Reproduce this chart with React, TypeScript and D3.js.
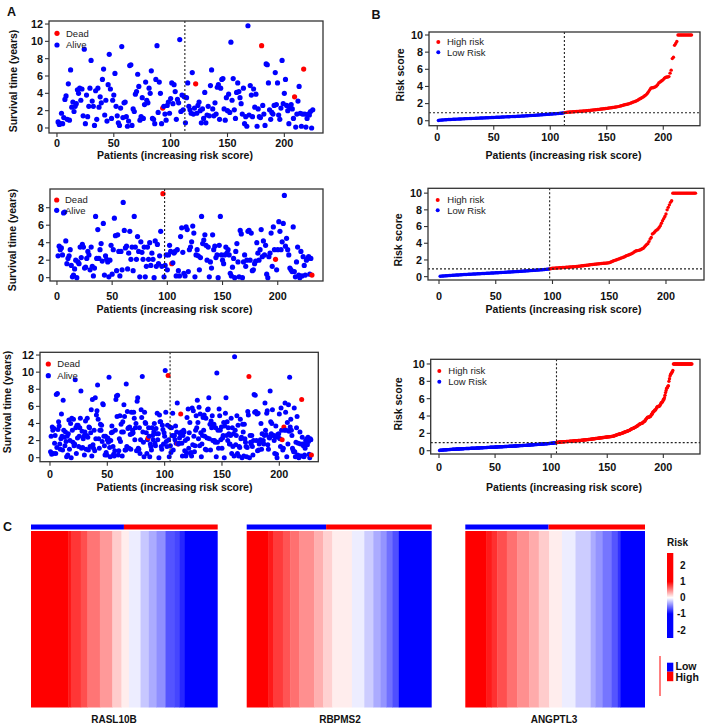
import React from "react";
import * as d3 from "d3";

const RED = "#FF0000";
const BLUE = "#0000FF";
const INK = "#111111";
const FONT = "'Liberation Sans', Arial, Helvetica, sans-serif";

// Training cohort: survival time (years) of patients ranked by increasing risk score
const trainSurvival = [
  0.7, 0.4, 0.5, 1.7, 0.5, 1.2, 3.3, 3.7, 1.0, 5.1,
  0.9, 6.7, 2.4, 3.0, 1.9, 2.5, 2.8, 4.4, 4.0, 4.6,
  3.2, 4.5, 1.4, 9.1, 0.5, 3.8, 1.3, 2.5, 4.6, 7.8,
  3.1, 2.5, 0.3, 4.3, 1.0, 4.6, 2.4, 3.6, 2.9, 5.6,
  6.8, 1.5, 3.2, 0.8, 5.0, 8.5, 4.5, 1.1, 3.2, 3.8,
  6.3, 2.5, 1.4, 0.6, 0.3, 2.3, 9.4, 1.2, 2.9, 3.0,
  1.3, 0.2, 0.8, 7.2, 7.3, 0.3, 2.2, 1.9, 3.9, 4.2,
  6.2, 4.8, 0.9, 1.3, 3.5, 1.1, 2.7, 5.3, 3.2, 2.9,
  4.6, 4.0, 6.6, 1.1, 1.0, 0.5, 5.6, 9.5, 1.8, 5.3,
  4.0, 0.5, 2.3, 2.5, 1.6, 0.9, 2.6, 3.0, 1.7, 3.4,
  5.2, 2.8, 5.0, 4.2, 1.0, 3.3, 2.9, 10.2, 1.9, 3.8,
  2.1, 3.6, 0.6, 3.5, 5.2, 2.5, 2.1, 1.7, 6.4, 1.6,
  2.3, 5.1, 1.7, 2.6, 3.0, 2.0, 0.6, 2.2, 1.1, 4.1,
  0.6, 1.5, 2.5, 1.4, 4.9, 6.7, 2.2, 1.4, 2.9, 1.6,
  4.7, 5.0, 1.0, 4.6, 5.6, 5.7, 2.2, 0.9, 3.5, 2.0,
  3.9, 1.8, 9.9, 3.2, 5.7, 2.1, 1.1, 4.1, 5.2, 4.2,
  3.5, 2.8, 1.6, 4.6, 0.5, 1.3, 0.2, 11.8, 1.5, 4.9,
  3.8, 1.3, 4.5, 2.4, 3.9, 0.2, 2.2, 1.3, 1.2, 9.5,
  2.6, 1.6, 0.3, 7.4, 7.3, 5.2, 2.1, 1.0, 1.8, 1.6,
  2.6, 6.4, 2.7, 5.2, 1.5, 1.0, 2.3, 7.8, 2.8, 4.0,
  5.6, 2.6, 2.0, 0.5, 2.4, 2.7, 2.2, 1.1, 3.6, 0.1,
  1.6, 3.1, 4.8, 1.7, 0.2, 1.6, 6.8, 1.6, 0.1, 1.1,
  1.6, 1.5, 1.9, 0.0, 2.1,
];
// Ranks of patients who died
const trainDead = [93, 122, 180, 209, 217];
// Risk score of each ranked patient
const trainRisk = [
  0.03, 0.05, 0.07, 0.08, 0.09, 0.10, 0.11, 0.12, 0.13, 0.14,
  0.15, 0.15, 0.16, 0.17, 0.17, 0.18, 0.19, 0.19, 0.20, 0.21,
  0.21, 0.22, 0.22, 0.23, 0.24, 0.24, 0.25, 0.25, 0.26, 0.26,
  0.27, 0.28, 0.28, 0.29, 0.29, 0.30, 0.30, 0.31, 0.32, 0.32,
  0.33, 0.33, 0.34, 0.34, 0.35, 0.36, 0.36, 0.37, 0.38, 0.38,
  0.39, 0.40, 0.40, 0.41, 0.41, 0.42, 0.43, 0.43, 0.44, 0.45,
  0.45, 0.46, 0.46, 0.47, 0.48, 0.48, 0.49, 0.50, 0.50, 0.51,
  0.52, 0.52, 0.53, 0.54, 0.55, 0.55, 0.56, 0.57, 0.58, 0.58,
  0.59, 0.60, 0.61, 0.62, 0.62, 0.63, 0.64, 0.65, 0.66, 0.67,
  0.68, 0.69, 0.70, 0.71, 0.72, 0.73, 0.74, 0.75, 0.76, 0.77,
  0.78, 0.79, 0.80, 0.81, 0.82, 0.83, 0.84, 0.86, 0.87, 0.88,
  0.90, 0.92,
  0.95, 0.97, 0.99, 1.00, 1.01, 1.02, 1.03, 1.04,
  1.05, 1.06, 1.07, 1.08, 1.09, 1.10, 1.11, 1.12, 1.13, 1.14,
  1.15, 1.17, 1.18, 1.19, 1.21, 1.22, 1.24, 1.25, 1.27, 1.28,
  1.30, 1.31, 1.33, 1.34, 1.36, 1.37, 1.39, 1.40, 1.42, 1.44,
  1.46, 1.48, 1.50, 1.52, 1.54, 1.56, 1.58, 1.60, 1.62, 1.65,
  1.68, 1.71, 1.75, 1.79, 1.83, 1.87, 1.90, 1.93, 1.96, 2.00,
  2.05, 2.10, 2.15, 2.20, 2.25, 2.30, 2.37, 2.45, 2.53, 2.60,
  2.68, 2.75, 2.85, 2.95, 3.05, 3.20, 3.40, 3.60, 3.78, 3.85,
  3.85, 3.90, 3.95, 4.05, 4.20, 4.40, 4.50, 4.60, 4.70, 4.80,
  4.95, 5.05, 5.10, 5.10, 5.15, 5.55, 5.90, 7.25, 7.40, 8.80,
  9.00, 9.25, 10.0, 10.0, 10.0, 10.0, 10.0, 10.0, 10.0, 10.0,
  10.0, 10.0, 10.0, 10.0, 10.0,
];

// Validation cohort
const testSurvival = [
  2.5, 3.6, 3.2, 3.4, 2.6, 7.4, 7.5, 4.2, 1.6, 2.2,
  2.5, 3.2, 1.4, 0.1, 0.3, 1.0, 2.0, 0.0, 1.8, 1.6,
  3.5, 2.3, 3.8, 3.5, 1.1, 1.2, 2.2, 3.0, 2.6, 0.9,
  3.5, 1.3, 0.2, 1.1, 7.0, 2.2, 5.5, 2.2, 3.2, 3.9,
  1.9, 6.2, 0.3, 2.5, 2.1, 1.8, 0.1, 2.0, 3.7, 0.4,
  3.2, 6.8, 4.8, 0.8, 4.9, 3.0, 0.2, 3.0, 0.9, 8.6,
  5.4, 3.4, 3.6, 1.0, 2.8, 5.3, 2.1, 3.5, 0.8, 7.0,
  3.5, 2.1, 4.7, 3.0, 0.1, 4.1, 2.9, 2.1, 3.5, 0.1,
  1.3, 3.5, 2.1, 4.0, 1.4, 2.8, 2.1, 0.0, 4.2, 1.3,
  3.8, 1.6, 2.5, 5.3, 1.3, 9.6, 0.1, 1.4, 2.6, 0.9,
  2.6, 3.7, 3.0, 1.6, 1.7, 2.8, 3.0, 0.2, 3.2, 0.8,
  0.2, 4.7, 5.7, 2.9, 0.5, 0.2, 5.8, 5.5, 0.7, 3.2,
  3.5, 4.1, 5.9, 5.1, 0.1, 2.6, 3.2, 2.5, 0.9, 2.3,
  7.0, 3.9, 4.3, 4.9, 3.7, 2.0, 3.5, 0.1, 1.8, 1.1,
  4.9, 3.2, 3.6, 2.3, 2.6, 0.0, 3.7, 7.0, 2.6, 2.0,
  1.6, 2.6, 3.5, 2.8, 3.2, 2.6, 0.5, 0.2, 1.2, 2.2,
  0.0, 3.0, 3.9, 1.8, 0.1, 5.4, 5.0, 0.0, 1.8, 2.6,
  1.3, 2.0, 5.3, 5.4, 2.0, 5.1, 0.8, 0.9, 1.6, 1.9,
  4.0, 2.8, 2.0, 3.2, 5.5, 2.4, 4.2, 2.6, 3.7, 0.4,
  0.0, 2.4, 2.8, 5.1, 1.3, 5.8, 3.2, 2.1, 0.9, 3.2,
  6.4, 5.3, 3.2, 4.1, 6.2, 9.4, 3.6, 4.5, 3.2, 2.6,
  1.1, 0.9, 0.7, 5.8, 0.7, 0.1, 1.8, 3.5, 0.3, 0.0,
  3.0, 0.2, 2.4, 1.4, 0.3, 2.0, 2.2, 2.4, 0.4, 2.2,
  0.3,
];
const testDead = [96, 104, 198, 231];
const testRisk = [
  0.05, 0.06, 0.07, 0.08, 0.09, 0.10, 0.11, 0.12, 0.13, 0.14,
  0.15, 0.16, 0.17, 0.18, 0.19, 0.20, 0.20, 0.21, 0.22, 0.23,
  0.24, 0.25, 0.25, 0.26, 0.27, 0.28, 0.28, 0.29, 0.30, 0.31,
  0.32, 0.32, 0.33, 0.34, 0.35, 0.35, 0.36, 0.37, 0.38, 0.38,
  0.39, 0.40, 0.41, 0.41, 0.42, 0.43, 0.44, 0.44, 0.45, 0.46,
  0.47, 0.47, 0.48, 0.49, 0.50, 0.51, 0.51, 0.52, 0.53, 0.54,
  0.55, 0.55, 0.56, 0.57, 0.58, 0.59, 0.60, 0.60, 0.61, 0.62,
  0.63, 0.64, 0.65, 0.66, 0.67, 0.68, 0.69, 0.70, 0.71, 0.72,
  0.73, 0.74, 0.75, 0.76, 0.77, 0.78, 0.79, 0.80, 0.81, 0.82,
  0.83, 0.84, 0.86, 0.87, 0.88, 0.90, 0.92,
  0.95, 0.98, 1.00,
  1.01, 1.02, 1.03, 1.04, 1.05, 1.06, 1.07, 1.08, 1.09, 1.10,
  1.11, 1.12, 1.13, 1.14, 1.15, 1.16, 1.17, 1.18, 1.19, 1.20,
  1.22, 1.23, 1.25, 1.26, 1.28, 1.30, 1.31, 1.33, 1.35, 1.36,
  1.38, 1.40, 1.42, 1.44, 1.45, 1.47, 1.49, 1.50, 1.52, 1.53,
  1.55, 1.56, 1.58, 1.59, 1.60, 1.61, 1.62, 1.63, 1.65, 1.68,
  1.72, 1.78, 1.85, 1.90, 1.95, 2.00, 2.05, 2.10, 2.15, 2.20,
  2.25, 2.30, 2.35, 2.42, 2.50, 2.55, 2.60, 2.65, 2.70, 2.78,
  2.85, 2.95, 3.05, 3.10, 3.12, 3.15, 3.20, 3.25, 3.35, 3.40,
  3.55, 3.70, 3.85, 3.95, 4.20, 4.50, 4.70, 5.10, 5.20, 5.35,
  5.50, 5.60, 5.70, 5.90, 6.10, 6.40, 6.70, 6.95, 7.20, 7.50,
  8.00, 8.30, 8.60, 8.90, 9.10,
  10.0, 10.0, 10.0, 10.0, 10.0, 10.0, 10.0, 10.0, 10.0, 10.0,
  10.0, 10.0, 10.0, 10.0, 10.0, 10.0, 10.0, 10.0, 10.0, 10.0,
  10.0,
];

// Median risk score used to split low / high risk groups
const riskCutoff = 0.93;

const xTicks = [0, 50, 100, 150, 200];
const survivalTicks = [0, 2, 4, 6, 8, 10, 12];
const survivalTicksShort = [0, 2, 4, 6, 8];
const riskTicks = [0, 2, 4, 6, 8, 10];

// Heatmap bands (number of samples, scaled expression) per gene, left to right
const genes = ["RASL10B", "RBPMS2", "ANGPTL3"];
const rasl10bCounts = [45, 3, 12, 8, 15, 15, 11, 9, 14, 10, 9, 11, 11, 6, 6, 40];
const rasl10bValues = [1, 0.92, 0.79, 0.69, 0.54, 0.4, 0.2, 0.07, -0.07, -0.22, -0.33, -0.44, -0.67, -0.73, -0.85, -1];
const rbpms2Counts = [26, 6, 12, 9, 11, 18, 11, 11, 24, 15, 11, 9, 7, 7, 8, 40];
const rbpms2Values = [1, 0.9, 0.77, 0.67, 0.56, 0.44, 0.31, 0.18, 0.07, -0.07, -0.2, -0.33, -0.42, -0.56, -0.69, -1];
const angptl3Counts = [26, 7, 7, 12, 13, 15, 12, 13, 16, 17, 19, 6, 9, 11, 8, 3, 31];
const angptl3Values = [1, 0.9, 0.81, 0.69, 0.56, 0.44, 0.33, 0.2, 0.07, -0.07, -0.2, -0.33, -0.42, -0.54, -0.67, -0.81, -1];
const colorbarTicks = [2, 1, 0, -1, -2];

// ---- derived series ----
type Pt = { x: number; y: number; color: string };

const survivalPoints = (times: number[], dead: number[]): Pt[] =>
  times.map((t, i) => ({ x: i + 1, y: t, color: dead.includes(i + 1) ? RED : BLUE }));

const riskPoints = (risk: number[], step = 1): Pt[] =>
  risk.map((r, i) => ({ x: (i + 1) * step, y: r, color: r > riskCutoff ? RED : BLUE }));

// Entire cohort: both cohorts merged by risk score, two patients per axis unit
type Patient = { time: number; dead: boolean; risk: number; rel: number };
const cohort = (times: number[], dead: number[], risk: number[]): Patient[] =>
  times.map((t, i) => ({
    time: t,
    dead: dead.includes(i + 1),
    risk: risk[Math.min(i, risk.length - 1)],
    rel: i / (times.length - 1),
  }));
const entire = [...cohort(trainSurvival, trainDead, trainRisk), ...cohort(testSurvival, testDead, testRisk)]
  .sort((a, b) => a.risk - b.risk || a.rel - b.rel);
const entirePoints: Pt[] = entire.map((p, i) => ({ x: (i + 1) / 2, y: p.time, color: p.dead ? RED : BLUE }));
const entireRisk = [...trainRisk, ...testRisk].sort((a, b) => a - b);

const lowCount = (risk: number[]) => risk.filter((r) => r < riskCutoff).length;
const trainSplit = lowCount(trainRisk) + 0.5;
const testSplit = lowCount(testRisk) + 0.5;
const entireSplit = (lowCount(entireRisk) + 0.5) / 2;

// ---- layout ----
type Spec = {
  frame: [number, number, number, number];
  xDomain: [number, number];
  yDomain: [number, number];
  yTicks: number[];
  yTitle: string;
  tickLabelY: number;
  titleX: number;
  titleY: number;
  yTitleX: number;
  yTitleY: number;
  legend: { x: number; y1: number; y2: number; textX: number; r: number; labels: [string, string] };
  pointR: number;
  vline: number;
  hline?: number;
};

const deadAlive: [string, string] = ["Dead", "Alive"];
const highLow: [string, string] = ["High risk", "Low Risk"];

const specs: { spec: Spec; points: Pt[] }[] = [
  {
    points: survivalPoints(trainSurvival, trainDead),
    spec: {
      frame: [49, 21, 323, 133], xDomain: [-7, 234], yDomain: [-0.58, 12.35], yTicks: survivalTicks,
      yTitle: "Survival time (years)", tickLabelY: 143.5, titleX: 175, titleY: 155, yTitleX: 13, yTitleY: 81,
      legend: { x: 57, y1: 33.3, y2: 45, textX: 66, r: 2.6, labels: deadAlive }, pointR: 2.6, vline: trainSplit,
    },
  },
  {
    points: riskPoints(trainRisk),
    spec: {
      frame: [429, 32, 700, 125.7], xDomain: [-7.3, 232.5], yDomain: [-0.58, 10.35], yTicks: riskTicks,
      yTitle: "Risk score", tickLabelY: 136.7, titleX: 563.5, titleY: 155, yTitleX: 400, yTitleY: 75,
      legend: { x: 438.3, y1: 42, y2: 52.3, textX: 447, r: 2, labels: highLow }, pointR: 1.7, vline: trainSplit,
      hline: riskCutoff,
    },
  },
  {
    points: survivalPoints(testSurvival, testDead),
    spec: {
      frame: [50, 189, 323, 281], xDomain: [-6.3, 241], yDomain: [-0.38, 10.14], yTicks: survivalTicksShort,
      yTitle: "Survival time (years)", tickLabelY: 296, titleX: 174.5, titleY: 309.3, yTitleX: 12, yTitleY: 240,
      legend: { x: 56.7, y1: 200, y2: 210.3, textX: 65, r: 2.6, labels: deadAlive }, pointR: 2.6, vline: testSplit,
    },
  },
  {
    points: riskPoints(testRisk),
    spec: {
      frame: [428, 188.3, 704, 280], xDomain: [-9.7, 233.5], yDomain: [-0.4, 10.58], yTicks: riskTicks,
      yTitle: "Risk score", tickLabelY: 296, titleX: 563.5, titleY: 309.3, yTitleX: 398, yTitleY: 240,
      legend: { x: 437.7, y1: 200, y2: 210.3, textX: 447.3, r: 2, labels: highLow }, pointR: 1.7, vline: testSplit,
      hline: riskCutoff,
    },
  },
  {
    points: entirePoints,
    spec: {
      frame: [40, 352.3, 318.3, 461.7], xDomain: [-8.7, 234], yDomain: [-0.47, 12.32], yTicks: survivalTicks,
      yTitle: "Survival time (years)", tickLabelY: 474.3, titleX: 174.5, titleY: 487.7, yTitleX: 7.5, yTitleY: 402,
      legend: { x: 48.3, y1: 364, y2: 375.7, textX: 57.3, r: 2.6, labels: deadAlive }, pointR: 2.5, vline: entireSplit,
    },
  },
  {
    points: riskPoints(entireRisk, 0.5),
    spec: {
      frame: [430.7, 359.3, 700, 454], xDomain: [-7.4, 232.7], yDomain: [-0.38, 10.54], yTicks: riskTicks,
      yTitle: "Risk score", tickLabelY: 466.7, titleX: 564, titleY: 487.7, yTitleX: 398, yTitleY: 404,
      legend: { x: 439.3, y1: 371, y2: 381.7, textX: 448.3, r: 2, labels: highLow }, pointR: 1.7, vline: entireSplit,
      hline: riskCutoff,
    },
  },
];

function Panel({ spec, points }: { spec: Spec; points: Pt[] }) {
  const [l, t, r, b] = spec.frame;
  const x = d3.scaleLinear().domain(spec.xDomain).range([l, r]);
  const y = d3.scaleLinear().domain(spec.yDomain).range([b, t]);
  const lg = spec.legend;
  return (
    <g>
      {points.map((p, i) => (
        <circle key={i} cx={x(p.x)} cy={y(p.y)} r={spec.pointR} fill={p.color} />
      ))}
      <line x1={x(spec.vline)} x2={x(spec.vline)} y1={t} y2={b} stroke="#222" strokeWidth={1.1} strokeDasharray="2 2" />
      {spec.hline !== undefined && (
        <line x1={l} x2={r} y1={y(spec.hline)} y2={y(spec.hline)} stroke="#222" strokeWidth={1.1} strokeDasharray="2 2" />
      )}
      <rect x={l} y={t} width={r - l} height={b - t} fill="none" stroke="#333" strokeWidth={1.3} />
      {xTicks.map((v) => (
        <g key={"x" + v}>
          <line x1={x(v)} x2={x(v)} y1={b} y2={b + 4} stroke="#333" strokeWidth={1.1} />
          <text x={x(v)} y={spec.tickLabelY} dy="0.36em" textAnchor="middle" fontSize={10.8} fontWeight="bold" fill={INK}>
            {v}
          </text>
        </g>
      ))}
      {spec.yTicks.map((v) => (
        <g key={"y" + v}>
          <line x1={l - 4} x2={l} y1={y(v)} y2={y(v)} stroke="#333" strokeWidth={1.1} />
          <text x={l - 6} y={y(v)} dy="0.36em" textAnchor="end" fontSize={10.8} fontWeight="bold" fill={INK}>
            {v}
          </text>
        </g>
      ))}
      <text x={spec.titleX} y={spec.titleY} dy="0.36em" textAnchor="middle" fontSize={10.5} fontWeight="bold" fill={INK}>
        Patients (increasing risk score)
      </text>
      <text
        transform={`translate(${spec.yTitleX},${spec.yTitleY}) rotate(-90)`}
        dy="0.36em"
        textAnchor="middle"
        fontSize={10.5}
        fontWeight="bold"
        fill={INK}
      >
        {spec.yTitle}
      </text>
      <circle cx={lg.x} cy={lg.y1} r={lg.r} fill={RED} />
      <circle cx={lg.x} cy={lg.y2} r={lg.r} fill={BLUE} />
      <text x={lg.textX} y={lg.y1} dy="0.36em" fontSize={9.5} fill="#222">
        {lg.labels[0]}
      </text>
      <text x={lg.textX} y={lg.y2} dy="0.36em" fontSize={9.5} fill="#222">
        {lg.labels[1]}
      </text>
    </g>
  );
}

const heatColor = d3.scaleLinear<string>().domain([-1, 0, 1]).range([BLUE, "#FFFFFF", RED]).clamp(true);

const heatmaps = [
  { gene: genes[0], counts: rasl10bCounts, values: rasl10bValues, lowFrac: lowCount(trainRisk) / trainRisk.length, x0: 31, x1: 217.7, labelX: 114 },
  { gene: genes[1], counts: rbpms2Counts, values: rbpms2Values, lowFrac: lowCount(testRisk) / testRisk.length, x0: 246.7, x1: 431.7, labelX: 340 },
  { gene: genes[2], counts: angptl3Counts, values: angptl3Values, lowFrac: lowCount(entireRisk) / entireRisk.length, x0: 465.3, x1: 645, labelX: 554 },
];

function Heatmap({ h }: { h: (typeof heatmaps)[number] }) {
  const total = d3.sum(h.counts);
  const col = d3.scaleLinear().domain([0, total]).range([h.x0, h.x1]);
  const starts = d3.cumsum([0, ...h.counts]);
  const split = total * h.lowFrac;
  return (
    <g>
      <rect x={col(0)} y={524.5} width={col(split) - col(0)} height={5} fill={BLUE} />
      <rect x={col(split)} y={524.5} width={col(total) - col(split)} height={5} fill={RED} />
      {h.counts.map((c, i) => (
        <rect
          key={i}
          x={col(starts[i])}
          y={531}
          width={col(starts[i] + c) - col(starts[i]) + (i < h.counts.length - 1 ? 0.4 : 0)}
          height={176.5}
          fill={heatColor(h.values[i])}
        />
      ))}
      <text x={h.labelX} y={719.5} dy="0.36em" textAnchor="middle" fontSize={10} fontWeight="bold" fill={INK}>
        {h.gene}
      </text>
    </g>
  );
}

function Legends() {
  const cb = d3.scaleLinear().domain([2, -2]).range([565.5, 630]);
  const top = 553;
  const bottom = 638;
  const off = (v: number) => ((cb(v) - top) / (bottom - top)) * 100 + "%";
  return (
    <g>
      <defs>
        <linearGradient id="riskbar" x1="0" y1="0" x2="0" y2="1">
          <stop offset="0%" stopColor={RED} />
          <stop offset={off(1)} stopColor={RED} />
          <stop offset={off(0)} stopColor="#FFFFFF" />
          <stop offset={off(-1)} stopColor={BLUE} />
          <stop offset="100%" stopColor={BLUE} />
        </linearGradient>
      </defs>
      <text x={667} y={542} dy="0.36em" fontSize={10} fontWeight="bold" fill={INK}>
        Risk
      </text>
      <rect x={667} y={top} width={6.3} height={bottom - top} fill="url(#riskbar)" />
      {colorbarTicks.map((v) => (
        <text key={v} x={v < 0 ? 677 : 680} y={cb(v)} dy="0.36em" fontSize={10} fontWeight="bold" fill={INK}>
          {v}
        </text>
      ))}
      <line x1={660} x2={660} y1={656} y2={696} stroke={RED} strokeWidth={1} />
      <rect x={667} y={662.7} width={6.3} height={9} fill={BLUE} />
      <rect x={667} y={671.7} width={6.3} height={9.5} fill={RED} />
      <text x={675.5} y={666.5} dy="0.36em" fontSize={10.5} fontWeight="bold" fill={INK}>
        Low
      </text>
      <text x={675.5} y={677.5} dy="0.36em" fontSize={10.5} fontWeight="bold" fill={INK}>
        High
      </text>
    </g>
  );
}

export default function App() {
  return (
    <svg
      width={708}
      height={726}
      viewBox="0 0 708 726"
      style={{ position: "absolute", left: 0, top: 0, background: "#fff", fontFamily: FONT }}
    >
      <rect width={708} height={726} fill="#fff" />
      <text x={7} y={16} fontSize={12.5} fontWeight="bold" fill={INK}>A</text>
      <text x={371.5} y={18.5} fontSize={12.5} fontWeight="bold" fill={INK}>B</text>
      <text x={3} y={530.5} fontSize={12.5} fontWeight="bold" fill={INK}>C</text>
      {specs.map((s, i) => (
        <Panel key={i} spec={s.spec} points={s.points} />
      ))}
      {heatmaps.map((h) => (
        <Heatmap key={h.gene} h={h} />
      ))}
      <Legends />
    </svg>
  );
}
